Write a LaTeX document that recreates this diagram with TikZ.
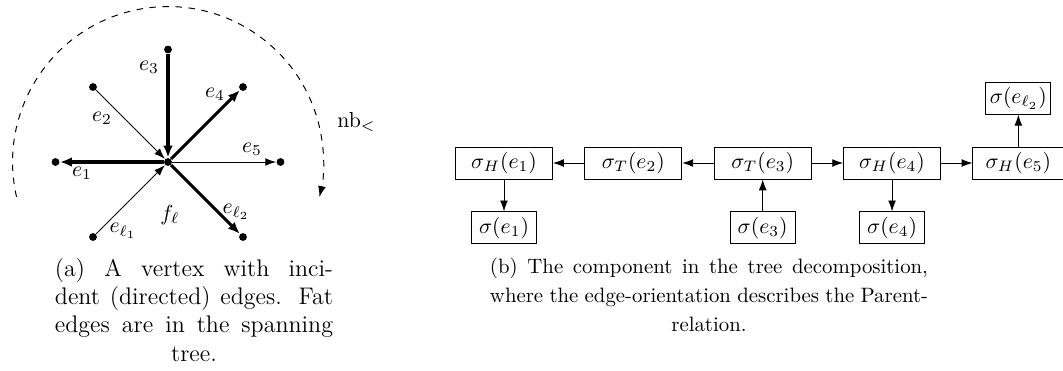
\documentclass[tikz,border=0pt]{standalone}
\usepackage{amsmath,amssymb}
\usepackage{tikz}
\usetikzlibrary{positioning,arrows.meta}

\begin{document}
\begin{tikzpicture}[x=0.46pt, y=-0.46pt, >={Latex[length=5pt,width=3.6pt]}, node distance=14.7pt and 14.5pt]
  \tikzstyle{vert}=[circle, fill, inner sep=0pt, minimum size=3.6pt]
  \tikzstyle{treeedge}=[line width=1.4pt, -{Latex[length=5.5pt,width=4.4pt]}]
  \tikzstyle{otheredge}=[line width=0.45pt, ->]
  \tikzstyle{bag}=[draw, minimum width=44.6pt, minimum height=14.7pt, inner sep=0pt]
  \tikzstyle{leaf}=[draw, minimum width=29.9pt, minimum height=14.7pt, inner sep=0pt]
  \tikzstyle{capt}=[align=center, inner sep=0pt, anchor=north]
  \useasboundingbox (0,0) rectangle (1063,370);

  % (a) the vertex and its incident edges
  \node[vert] (v) at (168,162) {};
  \node[vert] (n1) at (55.5,162) {};
  \node[vert] (n2) at (93,87) {};
  \node[vert] (n3) at (168,49.5) {};
  \node[vert] (n4) at (243,87) {};
  \node[vert] (n5) at (280.5,162) {};
  \node[vert] (l1) at (93,237) {};
  \node[vert] (l2) at (243,237) {};
  \draw[treeedge] (v) -- (n1);
  \draw[otheredge] (n2) -- (v);
  \draw[treeedge] (n3) -- (v);
  \draw[treeedge] (v) -- (n4);
  \draw[otheredge] (v) -- (n5);
  \draw[otheredge] (l1) -- (v);
  \draw[treeedge] (v) -- (l2);
  \node at (149,67) {$e_3$};
  \node at (102,118) {$e_2$};
  \node at (215,94) {$e_4$};
  \node at (252,149) {$e_5$};
  \node at (82,173) {$e_1$};
  \node at (170,215) {$f_\ell$};
  \node at (123,231) {$e_{\ell_1}$};
  \node at (236,212) {$e_{\ell_2}$};
  \draw[otheredge, dashed] (v) ++(193:71.5pt) arc[start angle=193, end angle=-13, radius=71.5pt];
  \node[anchor=base west, inner sep=0pt] (nb) at (337,127) {$\mathrm{nb}_<$};

  % (b) the component in the tree decomposition
  \node[bag] (h1) at (504,163) {$\sigma_H(e_1)$};
  \node[bag, right=of h1] (t2) {$\sigma_T(e_2)$};
  \node[bag, right=of t2] (t3) {$\sigma_T(e_3)$};
  \node[bag, right=of t3] (h4) {$\sigma_H(e_4)$};
  \node[bag, right=of h4, minimum width=41.8pt] (h5) {$\sigma_H(e_5)$};
  \node[leaf, below=of h1] (s1) {$\sigma(e_1)$};
  \node[leaf, below=of t3] (s3) {$\sigma(e_3)$};
  \node[leaf, below=of h4] (s4) {$\sigma(e_4)$};
  \node[leaf, above=of h5] (sl2) {$\sigma(e_{\ell_2})$};
  \draw[->] (t2) -- (h1);
  \draw[->] (t3) -- (t2);
  \draw[->] (t3) -- (h4);
  \draw[->] (h4) -- (h5);
  \draw[->] (h1) -- (s1);
  \draw[->] (s3) -- (t3);
  \draw[->] (h4) -- (s4);
  \draw[->] (h5) -- (sl2);

  % captions
  \node[capt, font=\fontsize{11.04}{13}\selectfont] (capa) at (194,258) {\makebox[127.9pt][s]{(a) A vertex with inci-}\\
    \makebox[127.9pt][s]{dent (directed) edges. Fat}\\
    \makebox[127.9pt][s]{edges are in the spanning}\\
    tree.};
  \node[capt, font=\fontsize{9.57}{13.4}\selectfont] (capb) at (709,257.5) {\makebox[201.5pt][s]{(b) The component in the tree decomposition,}\\
    \makebox[201.5pt][s]{where the edge-orientation describes the Parent-}\\
    relation.};
\end{tikzpicture}
\end{document}
